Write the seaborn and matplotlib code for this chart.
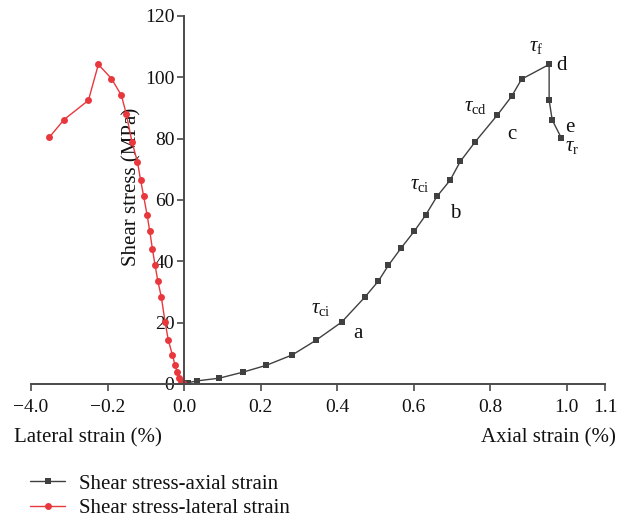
import matplotlib
matplotlib.use("Agg")
import matplotlib.pyplot as plt
import seaborn as sns
import pandas as pd
from matplotlib.lines import Line2D

sns.set_style("white")
plt.rcParams['font.family'] = ['Liberation Serif', 'DejaVu Serif']
plt.rcParams['mathtext.fontset'] = 'custom'
plt.rcParams['mathtext.rm'] = 'Liberation Serif'
plt.rcParams['mathtext.it'] = 'Liberation Serif:italic'

axial_strain = [0.0097, 0.033, 0.092, 0.155, 0.215, 0.283, 0.344, 0.412, 0.473, 0.508,
                0.534, 0.567, 0.602, 0.631, 0.661, 0.695, 0.722, 0.761, 0.818, 0.856,
                0.882, 0.954, 0.954, 0.962, 0.986]
axial_stress = [0.4, 1.0, 1.9, 3.9, 6.1, 9.5, 14.2, 20.2, 28.4, 33.6,
                38.7, 44.3, 49.9, 55.0, 61.2, 66.4, 72.6, 79.0, 87.6, 93.8,
                99.4, 104.2, 92.6, 86.1, 80.2]
lateral_strain = [-0.002, -0.008, -0.0125, -0.018, -0.0235, -0.0305, -0.041, -0.0496, -0.0595, -0.0687,
                  -0.0757, -0.0828, -0.0896, -0.0966, -0.1057, -0.1136, -0.1219, -0.1363, -0.1507, -0.1637,
                  -0.1898, -0.224, -0.2499, -0.3138, -0.3525]
lateral_stress = [0.3, 0.9, 2.0, 3.9, 6.1, 9.5, 14.2, 20.2, 28.4, 33.7,
                  38.7, 44.1, 49.8, 55.1, 61.3, 66.5, 72.5, 79.0, 87.9, 94.1,
                  99.6, 104.2, 92.5, 86.2, 80.4]

xtick_vals = [-0.4, -0.2, 0.0, 0.2, 0.4, 0.6, 0.8, 1.0, 1.1]
xtick_labels = ["\u22124.0", "\u22120.2", "0.0", "0.2", "0.4", "0.6", "0.8", "1.0", "1.1"]
ytick_vals = [0, 20, 40, 60, 80, 100, 120]

series_names = ["Shear stress-axial strain", "Shear stress-lateral strain"]
colors = ["#404040", "#e8383d"]

ax_df = pd.DataFrame({"x": axial_strain, "y": axial_stress})
lat_df = pd.DataFrame({"x": lateral_strain, "y": lateral_stress})

fig = plt.figure(figsize=(6.33, 5.21), dpi=100)
ax = fig.add_axes([31/633, 1 - 384/521, 574/633, 368/521])

sns.lineplot(data=ax_df, x="x", y="y", sort=False, estimator=None, ax=ax,
             color=colors[0], marker="s", markersize=4.5, linewidth=1.0,
             markeredgewidth=0, legend=False)
sns.lineplot(data=lat_df, x="x", y="y", sort=False, estimator=None, ax=ax,
             color=colors[1], marker="o", markersize=5, linewidth=1.0,
             markeredgewidth=0, legend=False)

ax.set_xlim(-0.4, 1.1)
ax.set_ylim(0, 120)
ax.spines['left'].set_position(('data', 0))
ax.spines['top'].set_visible(False)
ax.spines['right'].set_visible(False)
for s in ['left', 'bottom']:
    ax.spines[s].set_color('#4a4a4a')
    ax.spines[s].set_linewidth(1.4)
ax.set_xticks(xtick_vals)
ax.set_xticklabels(xtick_labels)
ax.set_yticks(ytick_vals)
ax.tick_params(axis='both', direction='out', length=5, width=1.2, color='#4a4a4a',
               labelsize=14, labelcolor='#111111', bottom=True, left=True)
ax.tick_params(axis='x', pad=6)
ax.tick_params(axis='y', pad=2)
ax.set_xlabel("")
ax.set_ylabel("Shear stress (MPa)", fontsize=15, color='#111111')
ax.yaxis.set_label_coords(0.192, 0.535)
ax.patch.set_alpha(0)

fig.text(14/633, 1 - 438/521, "Lateral strain (%)", fontsize=15, ha='left', va='center', color='#111111')
fig.text(616/633, 1 - 438/521, "Axial strain (%)", fontsize=15, ha='right', va='center', color='#111111')

# annotations
ann = [
    (0.358, 24.5, r"$\tau_{\rm ci}$"),
    (0.454, 16.6, "a"),
    (0.616, 65.2, r"$\tau_{\rm ci}$"),
    (0.708, 55.7, "b"),
    (0.762, 90.6, r"$\tau_{\rm cd}$"),
    (0.857, 81.2, "c"),
    (0.919, 110.2, r"$\tau_{\rm f}$"),
    (0.986, 103.8, "d"),
    (1.008, 83.6, "e"),
    (1.015, 77.4, r"$\tau_{\rm r}$"),
]
for x, y, t in ann:
    ax.text(x, y, t, fontsize=15, ha='center', va='center', color='#111111')

handles = [Line2D([], [], color=colors[0], marker='s', markersize=4.5, linewidth=1.0, markeredgewidth=0),
           Line2D([], [], color=colors[1], marker='o', markersize=5, linewidth=1.0, markeredgewidth=0)]
fig.legend(handles, series_names, loc='upper left', bbox_to_anchor=(30/633, 1 - 474/521),
           frameon=False, fontsize=15, handlelength=1.7, handletextpad=0.65, labelspacing=0.25,
           borderpad=0, borderaxespad=0, labelcolor='#111111')

fig.savefig("out.png", dpi=100)
